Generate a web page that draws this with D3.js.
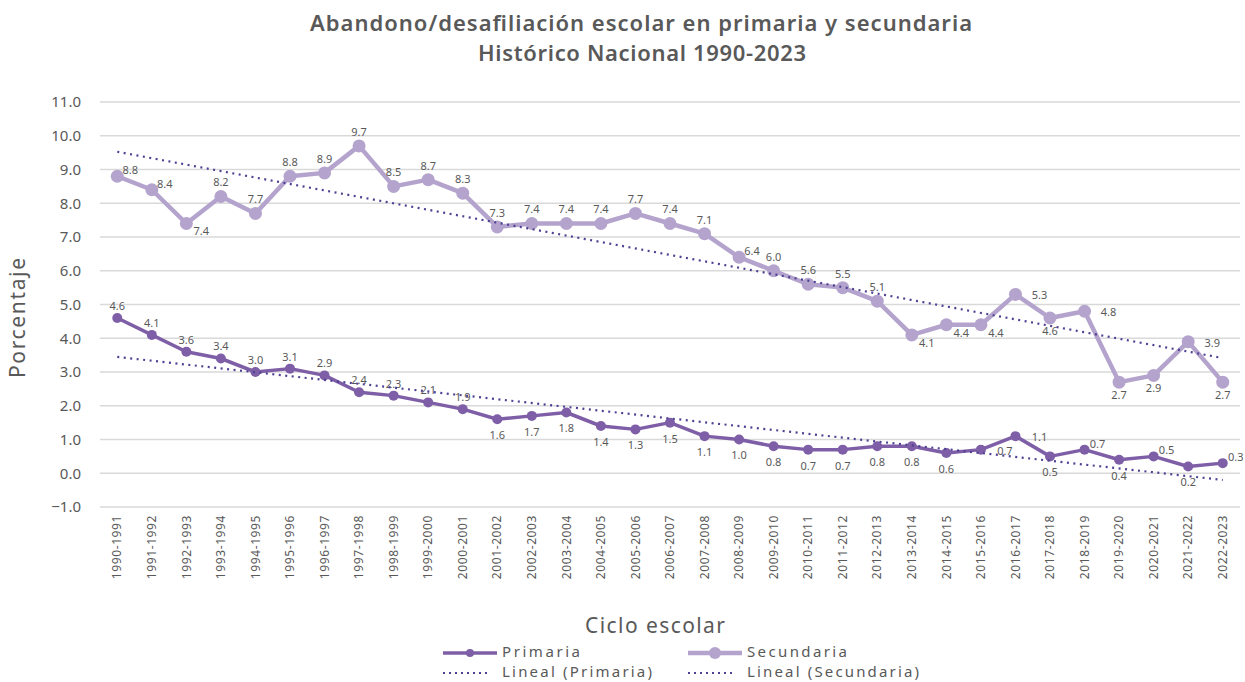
<!DOCTYPE html>
<html>
<head>
<meta charset="utf-8">
<script src="https://cdn.jsdelivr.net/npm/d3@7"></script>
<style>
	body { margin: 0; background: #fff; }
	text { font-family: "Noto Sans", sans-serif; fill: #595959; }
</style>
</head>
<body>
<svg id="chart" width="1245" height="682"></svg>
<script>
// ciclos escolares
const ciclos = ["1990-1991","1991-1992","1992-1993","1993-1994","1994-1995","1995-1996","1996-1997",
	"1997-1998","1998-1999","1999-2000","2000-2001","2001-2002","2002-2003","2003-2004","2004-2005",
	"2005-2006","2006-2007","2007-2008","2008-2009","2009-2010","2010-2011","2011-2012","2012-2013",
	"2013-2014","2014-2015","2015-2016","2016-2017","2017-2018","2018-2019","2019-2020","2020-2021",
	"2021-2022","2022-2023"];

const primaria = [4.6, 4.1, 3.6, 3.4, 3.0, 3.1, 2.9, 2.4, 2.3, 2.1, 1.9, 1.6, 1.7, 1.8, 1.4, 1.3, 1.5,
	1.1, 1.0, 0.8, 0.7, 0.7, 0.8, 0.8, 0.6, 0.7, 1.1, 0.5, 0.7, 0.4, 0.5, 0.2, 0.3];

const secundaria = [8.8, 8.4, 7.4, 8.2, 7.7, 8.8, 8.9, 9.7, 8.5, 8.7, 8.3, 7.3, 7.4, 7.4, 7.4, 7.7, 7.4,
	7.1, 6.4, 6.0, 5.6, 5.5, 5.1, 4.1, 4.4, 4.4, 5.3, 4.6, 4.8, 2.7, 2.9, 3.9, 2.7];

// donde va cada etiqueta (t = arriba, b = abajo, r = derecha, R = derecha lejos, br = abajo derecha)
const posPrimaria = ["t","t","t","t","t","t","t","t","t","t","t","b","b","b","b","b","b",
	"b","b","b","b","b","b","b","b","R","R","b","r","b","r","b","r"];
const posSecundaria = ["r","r","br","t","t","t","t","t","t","t","t","t","t","t","t","t","t",
	"t","r","t","t","t","t","br","br","br","R","b","R","b","b","R","b"];

const yTicks = [-1, 0, 1, 2, 3, 4, 5, 6, 7, 8, 9, 10, 11];

const colPrim = "#7e5fa7", colSec = "#b4a4cd", colTrend = "#4e4194";

var svg = d3.select("#chart"),
	margin = {top: 102, right: 5, bottom: 175, left: 100},
	width = 1245 - margin.left - margin.right,
	height = 682 - margin.top - margin.bottom;

var x = d3.scaleBand().domain(ciclos).range([0, width]),
	y = d3.scaleLinear().domain([-1, 11]).range([height, 0]);

var cx = function(d, i) { return x(ciclos[i]) + x.bandwidth() / 2; };

var g = svg.append("g").attr("transform", "translate(" + margin.left + "," + margin.top + ")");

// grid
g.selectAll(".grid").data(yTicks).enter().append("line")
	.attr("x1", 0).attr("x2", width)
	.attr("y1", d => y(d)).attr("y2", d => y(d))
	.attr("stroke", "#d9d9d9").attr("stroke-width", 1.3);

// y axis
var yAxis = g.append("g").call(d3.axisLeft(y).tickValues(yTicks).tickSize(0).tickPadding(19)
	.tickFormat(d3.format(".1f")));
yAxis.select(".domain").remove();
yAxis.selectAll("text").style("font-size", "15px").attr("fill", "#595959").style("font-family", "'Noto Sans', sans-serif");

// x axis labels
var xAxis = g.append("g").attr("transform", "translate(0," + height + ")")
	.call(d3.axisBottom(x).tickSize(0));
xAxis.select(".domain").remove();
xAxis.selectAll("text")
	.style("font-size", "12px").style("letter-spacing", "0.6px")
	.attr("fill", "#595959").style("font-family", "'Noto Sans', sans-serif")
	.attr("text-anchor", "end")
	.attr("transform", "translate(0,8) rotate(-90)")
	.attr("x", 0).attr("y", 0).attr("dy", "0.35em");

// linear trend (least squares, like Excel)
function trend(vals) {
	var n = vals.length, sx = 0, sy = 0, sxy = 0, sxx = 0;
	vals.forEach(function(v, i) { sx += i; sy += v; sxy += i * v; sxx += i * i; });
	var b = (n * sxy - sx * sy) / (n * sxx - sx * sx);
	var a = (sy - b * sx) / n;
	return [a, a + b * (n - 1)];
}

function drawTrend(vals) {
	var t = trend(vals);
	g.append("line")
		.attr("x1", cx(null, 0)).attr("x2", cx(null, vals.length - 1))
		.attr("y1", y(t[0])).attr("y2", y(t[1]))
		.attr("stroke", colTrend).attr("stroke-width", 2.2)
		.attr("stroke-dasharray", "2 4.5");
}

var line = d3.line().x(cx).y(d => y(d));

function drawSeries(vals, color, lw, r, pos, above, below) {
	g.append("path").datum(vals)
		.attr("fill", "none").attr("stroke", color).attr("stroke-width", lw)
		.attr("stroke-linejoin", "round").attr("d", line);
	g.selectAll(null).data(vals).enter().append("circle")
		.attr("cx", cx).attr("cy", d => y(d)).attr("r", r).attr("fill", color);
	var off = {t: [0, above], b: [0, below], r: [13, -5], R: [24, 2], br: [15, 9]};
	g.selectAll(null).data(vals).enter().append("text")
		.attr("x", (d, i) => cx(d, i) + off[pos[i]][0])
		.attr("y", (d, i) => y(d) + off[pos[i]][1])
		.attr("text-anchor", "middle").attr("dominant-baseline", "middle")
		.style("font-size", "11px")
		.text(d => d.toFixed(1));
}

drawSeries(secundaria, colSec, 4.5, 6.5, posSecundaria, -13, 14);
drawSeries(primaria, colPrim, 3.5, 5, posPrimaria, -11, 17);
drawTrend(primaria);
drawTrend(secundaria);

// titles
svg.append("text").attr("x", 641).attr("y", 31).attr("text-anchor", "middle")
	.style("font-size", "22px").style("font-weight", "600")
	.attr("textLength", 662).attr("lengthAdjust", "spacing")
	.text("Abandono/desafiliación escolar en primaria y secundaria");
svg.append("text").attr("x", 642).attr("y", 61).attr("text-anchor", "middle")
	.style("font-size", "22px").style("font-weight", "600")
	.attr("textLength", 328).attr("lengthAdjust", "spacing")
	.text("Histórico Nacional 1990-2023");

svg.append("text").attr("transform", "translate(25,318) rotate(-90)").attr("text-anchor", "middle")
	.style("font-size", "21px").attr("textLength", 120).attr("lengthAdjust", "spacing")
	.text("Porcentaje");
svg.append("text").attr("x", 655).attr("y", 633).attr("text-anchor", "middle")
	.style("font-size", "21px").attr("textLength", 140).attr("lengthAdjust", "spacing")
	.text("Ciclo escolar");

// legend
var leg = svg.append("g");
function legLine(x0, yy, color, lw, r, dotted, label, len) {
	var l = leg.append("line").attr("x1", x0).attr("x2", x0 + (dotted ? 47 : 54))
		.attr("y1", yy).attr("y2", yy).attr("stroke", color).attr("stroke-width", lw);
	if (dotted) l.attr("stroke-dasharray", "2 4");
	if (r) leg.append("circle").attr("cx", x0 + 27).attr("cy", yy).attr("r", r).attr("fill", color);
	leg.append("text").attr("x", x0 + 59).attr("y", yy).attr("dominant-baseline", "middle")
		.style("font-size", "15px").attr("textLength", len).attr("lengthAdjust", "spacing")
		.text(label);
}
legLine(443, 653, colPrim, 3.5, 4, false, "Primaria", 78);
legLine(688, 653, colSec, 4.5, 6, false, "Secundaria", 100);
legLine(443, 673, colTrend, 2.2, 0, true, "Lineal (Primaria)", 150);
legLine(688, 673, colTrend, 2.2, 0, true, "Lineal (Secundaria)", 172);
</script>
</body>
</html>
